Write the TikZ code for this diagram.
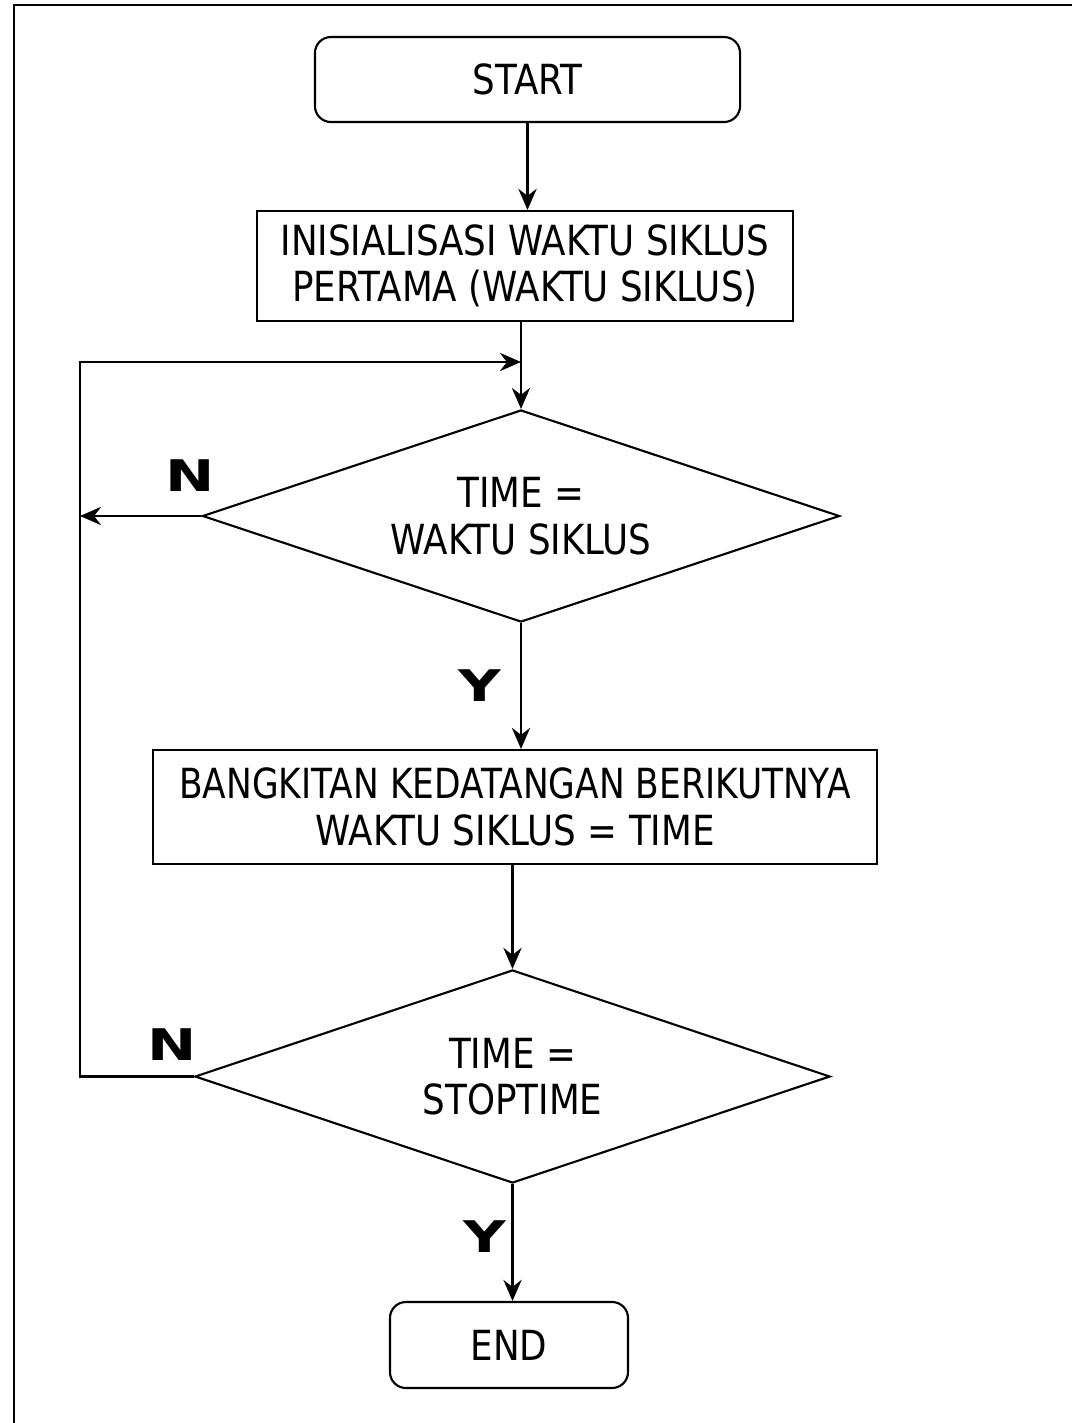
\documentclass[tikz,border=0pt]{standalone}
\usepackage{fontspec}
\setmainfont{DejaVu Sans}[FakeStretch=0.86]
\newfontfamily\lblfont{DejaVu Sans}[FakeStretch=1.35]
\usetikzlibrary{shapes.geometric,arrows.meta}
\begin{document}
\begin{tikzpicture}[x=0.025cm,y=-0.025cm,
  every node/.style={font=\fontsize{29.5}{33}\selectfont},
  termbox/.style={draw,line width=1.5pt,rounded corners=0.4cm,inner sep=0pt,align=center},
  procbox/.style={draw,line width=1.5pt,inner sep=0pt,align=center},
  decbox/.style={draw,line width=1.5pt,shape=diamond,inner sep=0pt},
  dectext/.style={align=center,inner sep=0pt},
  yn/.style={font=\lblfont\bfseries\fontsize{31}{32}\selectfont,inner sep=0pt},
  arr/.style={line width=1.5pt,-{Stealth[length=15pt,width=13pt,inset=5pt]}},
  ln/.style={line width=1.5pt}]
\useasboundingbox (0,0) rectangle (1072,1423);
\draw[line width=1.5pt] (14,1423) -- (14,5) -- (1072,5);
\node[termbox,minimum width=10.625cm,minimum height=2.125cm] (start) at (527.5,79.5) {START};
\node[procbox,minimum width=13.4cm,minimum height=2.75cm] (init) at (525,266) {INISIALISASI WAKTU SIKLUS\\PERTAMA (WAKTU SIKLUS)};
\node[decbox,minimum width=15.925cm,minimum height=5.3cm] (d1) at (521,516) {};
\node[dectext] (d1t) at (d1.center) {TIME =\\WAKTU SIKLUS};
\node[procbox,minimum width=18.1cm,minimum height=2.85cm] (bang) at (515,807) {\fontsize{29.5}{33}\addfontfeature{FakeStretch=0.83}BANGKITAN KEDATANGAN BERIKUTNYA\\WAKTU SIKLUS = TIME};
\node[decbox,minimum width=15.875cm,minimum height=5.325cm] (d2) at (512.5,1076.5) {};
\node[dectext] (d2t) at (d2.center) {TIME =\\STOPTIME};
\node[termbox,minimum width=5.95cm,minimum height=2.15cm] (end) at (509,1345) {END};
\node[yn] (n1) at (190,476) {N};
\node[yn] (y1) at (480,686) {Y};
\node[yn] (n2) at (172,1045) {N};
\node[yn] (y2) at (485,1237) {Y};
\coordinate (loopx) at (80,0);
\coordinate (jn) at (521,362);
\draw[arr] (start.south) -- (start.south |- init.north);
\draw[ln] (init.south -| d1.north) -- (jn);
\draw[arr] (jn) -- (d1.north);
\draw[arr] (d1.west) -- (d1.west -| loopx);
\draw[arr] (d2.west) -- (d2.west -| loopx) |- (jn);
\draw[arr] (d1.south) -- (d1.south |- bang.north);
\draw[arr] (d2.north |- bang.south) -- (d2.north);
\draw[arr] (d2.south) -- (d2.south |- end.north);
\end{tikzpicture}
\end{document}
